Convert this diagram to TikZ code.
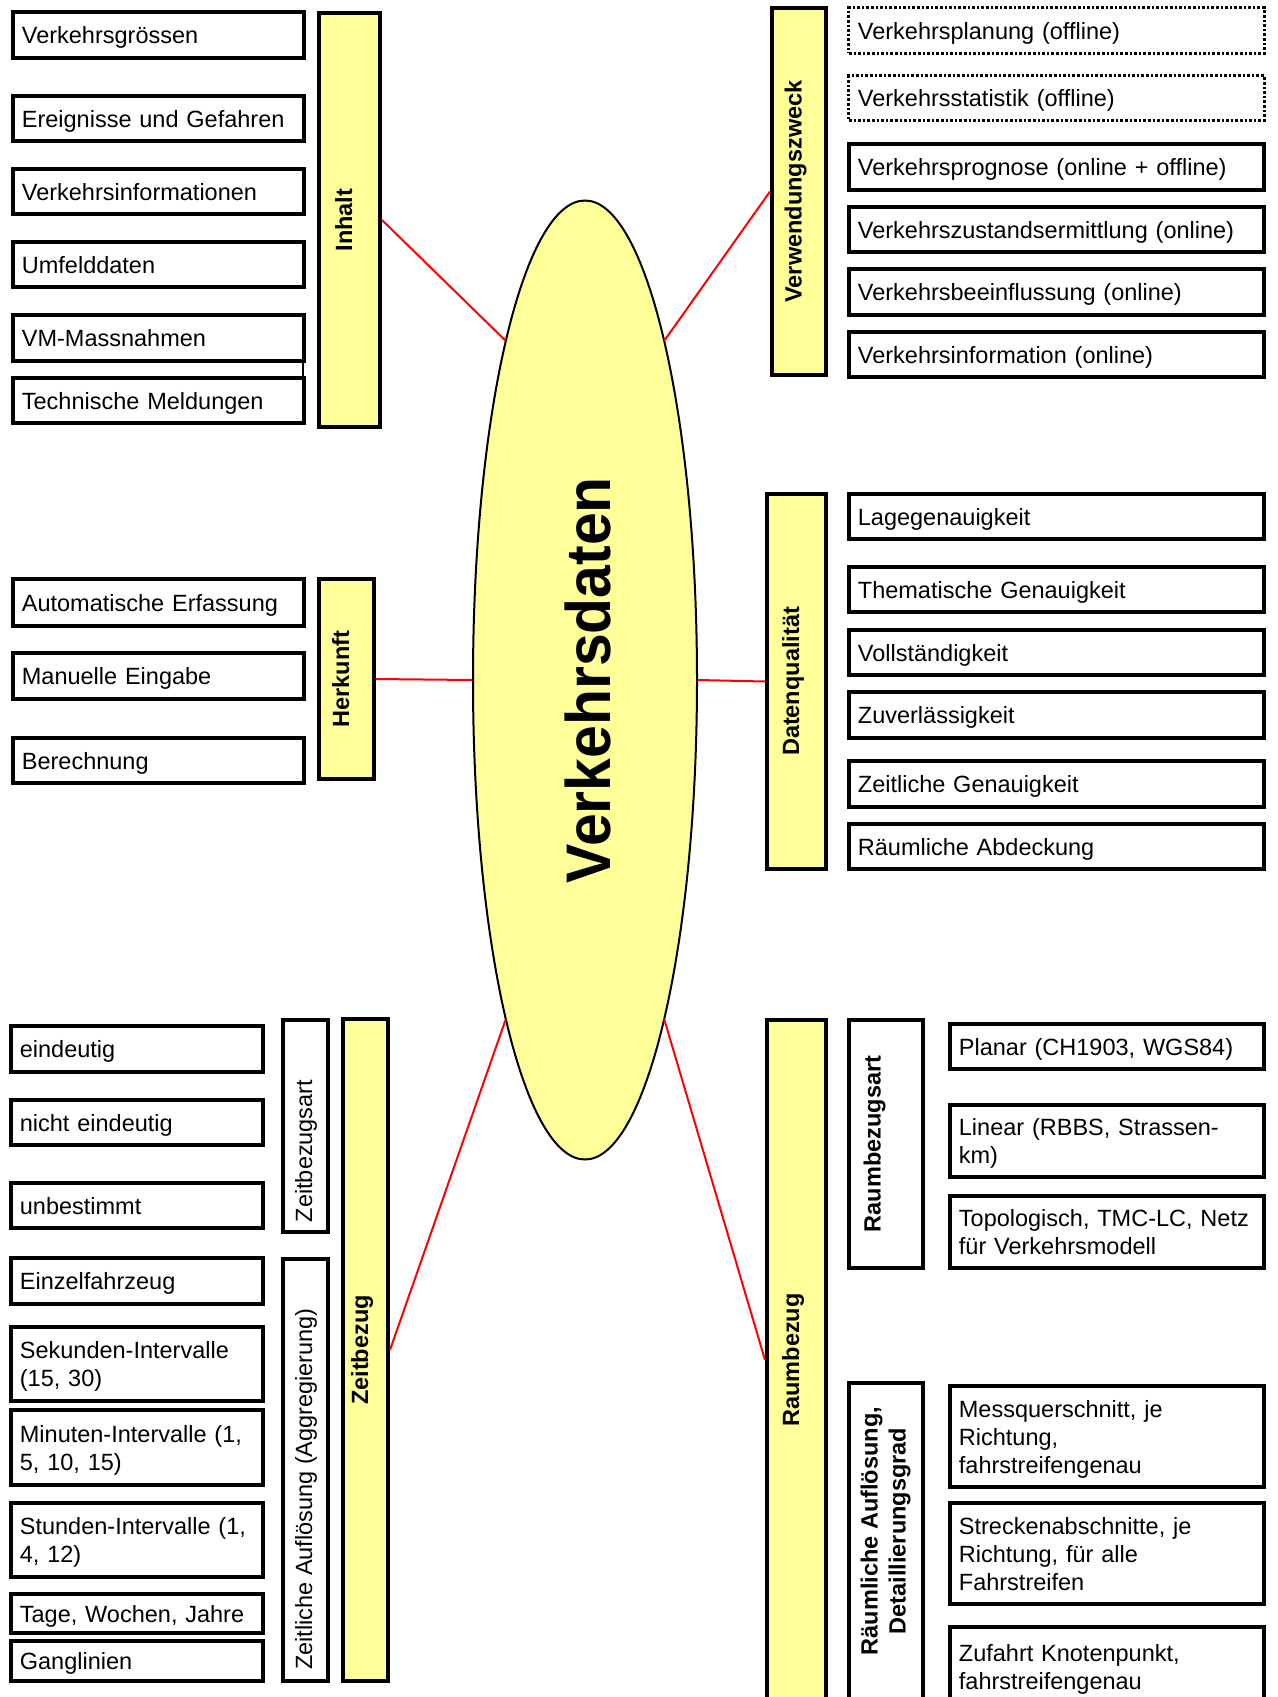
\documentclass[tikz,border=0pt]{standalone}
\usepackage{fontspec}
\setmainfont{Liberation Sans}
\usepackage{graphicx}
\usetikzlibrary{shapes.geometric,calc}

\definecolor{paleyellow}{HTML}{FFFF99}
\newcommand\fsnormal{\fontsize{23.5}{28}\selectfont}
\newcommand\fsbig{\fontsize{63}{70}\selectfont\bfseries}
\newcommand\frameW{3.8}

% label reading bottom to top; the optional strut depth moves it sideways
\newcommand\uplabel[2][13pt]{\rotatebox{90}{\vrule width0pt height18pt depth#1\relax #2}}

% rectangle node given by its outer corners (x1,y1) (x2,y2);
% the struts keep the capitals centred in the box
\newcommand\boxnode[7][cellbox]{%
  \pgfmathsetmacro\bxW{#5-#3-\frameW}%
  \pgfmathsetmacro\bxH{#6-#4-\frameW}%
  \pgfmathsetmacro\bxT{#5-#3-\frameW-18}%
  \pgfmathsetmacro\bxX{(#3+#5)/2}%
  \pgfmathsetmacro\bxY{(#4+#6)/2}%
  \node[#1, minimum width=\bxW pt, minimum height=\bxH pt, text width=\bxT pt] (#2) at (\bxX,\bxY)
    {\vrule width0pt height22.5pt depth5.2pt\relax #7\vrule width0pt height0pt depth5.2pt};}
\newcommand\barnode[7][bar]{%
  \pgfmathsetmacro\bxW{#5-#3-\frameW}%
  \pgfmathsetmacro\bxH{#6-#4-\frameW}%
  \pgfmathsetmacro\bxX{(#3+#5)/2}%
  \pgfmathsetmacro\bxY{(#4+#6)/2}%
  \node[#1, minimum width=\bxW pt, minimum height=\bxH pt] (#2) at (\bxX,\bxY) {#7};}

\tikzset{
  cellbox/.style={draw, line width=\frameW pt, fill=white, inner xsep=9pt, inner ysep=0pt, align=left, font=\fsnormal},
  dotbox/.style={cellbox, line width=3pt, dash pattern=on 2.6pt off 2pt},
  bar/.style={draw, line width=\frameW pt, fill=paleyellow, inner sep=0pt, font=\fsnormal\bfseries},
  framebar/.style={draw, line width=\frameW pt, fill=white, inner sep=0pt, font=\fsnormal},
  hub/.style={ellipse, draw, line width=2pt, fill=paleyellow, inner sep=0pt,
    minimum width=224pt, minimum height=959pt, font=\fsbig},
  link/.style={draw=red, line width=2pt},
  seam/.style={draw, line width=1.2pt},
}

\begin{document}
\begin{tikzpicture}[x=1pt, y=-1pt]
\useasboundingbox (0,0) rectangle (1277,1697);
\fill[white] (0,0) rectangle (1277,1697);

% central ellipse and the points where the connectors meet it
\node[hub] (hub) at (585,680) {\rotatebox{90}{\vrule width0pt height51pt depth0pt\scalebox{0.935}[1]{Verkehrsdaten}}};
\coordinate (hubNW) at ($(hub.center)+(-79.2,-339.1)$);
\coordinate (hubNE) at ($(hub.center)+(79.2,-339.1)$);
\coordinate (hubSW) at ($(hub.center)+(-79.2,339.1)$);
\coordinate (hubSE) at ($(hub.center)+(79.2,339.1)$);

% Inhalt
\barnode{inhalt}{317}{11}{382}{429}{\uplabel{Inhalt}}
\boxnode{in1}{11}{10}{306}{60}{Verkehrsgrössen}
\boxnode{in2}{11}{94}{306}{143}{Ereignisse und Gefahren}
\boxnode{in3}{11}{167}{306}{216}{Verkehrsinformationen}
\boxnode{in4}{11}{240}{306}{289}{Umfelddaten}
\boxnode{in5}{11}{313}{306}{363}{VM-Massnahmen}
\boxnode{in6}{11}{376}{306}{425}{Technische Meldungen}
\draw[seam] ([xshift=-3pt]in5.south east) -- ([xshift=-3pt]in6.north east);

% Herkunft
\barnode{herkunft}{317}{577}{376}{781}{\uplabel{Herkunft}}
\boxnode{he1}{11}{577}{306}{628}{Automatische Erfassung}
\boxnode{he2}{11}{651}{306}{701}{Manuelle Eingabe}
\boxnode{he3}{11}{736}{306}{785}{Berechnung}

% Verwendungszweck
\barnode{zweck}{770}{6}{828}{377}{\uplabel{Verwendungszweck}}
\boxnode[dotbox]{vz1}{847}{6}{1266}{55}{Verkehrsplanung (offline)}
\boxnode[dotbox]{vz2}{847}{74}{1266}{122}{Verkehrsstatistik (offline)}
\boxnode{vz3}{847}{142}{1266}{192}{Verkehrsprognose (online + offline)}
\boxnode{vz4}{847}{205}{1266}{254}{Verkehrszustandsermittlung (online)}
\boxnode{vz5}{847}{267}{1266}{317}{Verkehrsbeeinflussung (online)}
\boxnode{vz6}{847}{330}{1266}{379}{Verkehrsinformation (online)}

% Datenqualitaet
\barnode{qualitaet}{765}{492}{828}{871}{\uplabel{Datenqualität}}
\boxnode{dq1}{847}{492}{1266}{541}{Lagegenauigkeit}
\boxnode{dq2}{847}{565}{1266}{614}{Thematische Genauigkeit}
\boxnode{dq3}{847}{628}{1266}{677}{Vollständigkeit}
\boxnode{dq4}{847}{690}{1266}{740}{Zuverlässigkeit}
\boxnode{dq5}{847}{759}{1266}{809}{Zeitliche Genauigkeit}
\boxnode{dq6}{847}{822}{1266}{871}{Räumliche Abdeckung}

% Zeitbezug
\barnode{zeit}{341}{1017}{390}{1683}{\uplabel{Zeitbezug}}
\barnode[framebar]{zart}{281}{1018}{330}{1234}{\uplabel[2pt]{Zeitbezugsart\kern50pt}}
\barnode[framebar]{zaufl}{281}{1257}{330}{1683}{\uplabel[2pt]{Zeitliche Auflösung (Aggregierung)\kern38pt}}
\boxnode{zb1}{9}{1024}{265}{1074}{eindeutig}
\boxnode{zb2}{9}{1098}{265}{1147}{nicht eindeutig}
\boxnode{zb3}{9}{1181}{265}{1230}{unbestimmt}
\boxnode{zb4}{9}{1256}{265}{1306}{Einzelfahrzeug}
\boxnode{zb5}{9}{1325}{265}{1403}{Sekunden-Intervalle\\(15, 30)}
\boxnode{zb6}{9}{1408}{265}{1487}{Minuten-Intervalle (1,\\5, 10, 15)}
\boxnode{zb7}{9}{1501}{265}{1579}{Stunden-Intervalle (1,\\4, 12)}
\boxnode{zb8}{9}{1592}{265}{1635}{Tage, Wochen, Jahre}
\boxnode{zb9}{9}{1639}{265}{1683}{Ganglinien}

% Raumbezug
\barnode{raum}{765}{1018}{828}{1702}{\uplabel{Raumbezug}}
\barnode[framebar]{rart}{847}{1018}{925}{1270}{\uplabel[29pt]{\bfseries Raumbezugsart}}
\barnode[framebar]{raufl}{847}{1381}{925}{1712}{}
\node[font=\fsnormal\bfseries, inner sep=0pt] (rauflabel) at (886,1531)
  {\rotatebox{90}{\begin{tabular}{@{}c@{}}Räumliche Auflösung,\\Detaillierungsgrad\end{tabular}}};
\boxnode{rb1}{948}{1022}{1266}{1071}{Planar (CH1903, WGS84)}
\boxnode{rb2}{948}{1103}{1266}{1179}{Linear (RBBS, Strassen-\\km)}
\boxnode{rb3}{948}{1194}{1266}{1270}{Topologisch, TMC-LC, Netz\\für Verkehrsmodell}
\boxnode{rb4}{948}{1384}{1266}{1489}{Messquerschnitt, je\\Richtung,\\fahrstreifengenau}
\boxnode{rb5}{948}{1501}{1266}{1606}{Streckenabschnitte, je\\Richtung, für alle\\Fahrstreifen}
\boxnode{rb6}{948}{1625}{1266}{1708}{Zufahrt Knotenpunkt,\\fahrstreifengenau}

% connectors from the categories to the central ellipse
\draw[link] (inhalt.east) -- (hubNW);
\draw[link] (zweck.west) -- (hubNE);
\draw[link] (herkunft.east) -- (hub.west);
\draw[link] (qualitaet.west) -- (hub.east);
\draw[link] (zeit.east) -- (hubSW);
\draw[link] (raum.west) -- (hubSE);
\end{tikzpicture}
\end{document}
